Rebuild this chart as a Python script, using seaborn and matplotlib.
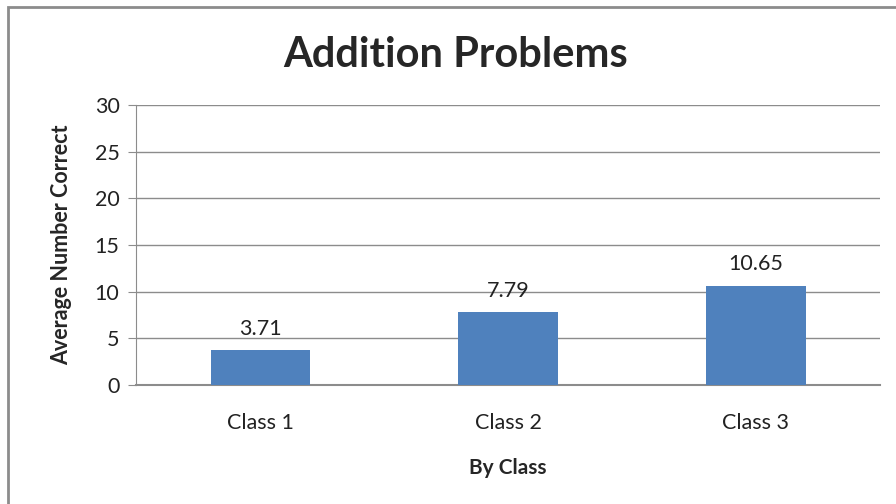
import matplotlib
matplotlib.use('Agg')
import matplotlib.pyplot as plt
import seaborn as sns
import pandas as pd
from matplotlib.patches import Rectangle

classes = ['Class 1', 'Class 2', 'Class 3']
avg_correct = [3.71, 7.79, 10.65]
y_ticks = [0, 5, 10, 15, 20, 25, 30]

df = pd.DataFrame({'Class': classes, 'Average': avg_correct})

sns.set_style('white')
plt.rcParams['font.family'] = ['Lato', 'DejaVu Sans']

fig = plt.figure(figsize=(8.96, 5.04), dpi=100)
ax = fig.add_axes([0.152, 0.236, 0.830, 0.556])

sns.barplot(data=df, x='Class', y='Average', color='#4F81BD', width=0.4,
            saturation=1, linewidth=0, ax=ax, zorder=3)

# value labels
for bar, v in zip(ax.patches, avg_correct):
    ax.annotate(f'{v:.2f}', (bar.get_x() + bar.get_width() / 2, bar.get_height()),
                xytext=(0, 8), textcoords='offset points', ha='center', va='bottom',
                fontsize=15.5, color='#222222')

ax.set_ylim(0, 30)
ax.set_yticks(y_ticks)
ax.set_xlim(-0.5, 2.5)
ax.yaxis.grid(True, color='#8c8c8c', linewidth=1.0, zorder=0)
ax.set_axisbelow(True)

for s in ['top', 'right']:
    ax.spines[s].set_visible(False)
ax.spines['left'].set_color('#8c8c8c')
ax.spines['bottom'].set_color('#8c8c8c')
ax.spines['bottom'].set_linewidth(1.5)

ax.tick_params(axis='y', length=6, color='#8c8c8c', labelsize=15.5, labelcolor='#222222',
               left=True, pad=6)
ax.tick_params(axis='x', length=0, labelsize=15.5, labelcolor='#222222', pad=20)

ax.set_xlabel('By Class', fontsize=15, fontweight='bold', labelpad=18)
ax.set_ylabel('Average Number Correct', fontsize=15.5, fontweight='bold', labelpad=16)

fig.suptitle('Addition Problems', fontsize=30, fontweight='bold', x=0.509, y=0.928)

# outer chart border (top and left visible)
fig.patches.append(Rectangle((0.009, -0.1), 1.2, 1.086, transform=fig.transFigure,
                             fill=False, edgecolor='#8c8c8c', linewidth=2))

fig.savefig('out.png', dpi=100)
